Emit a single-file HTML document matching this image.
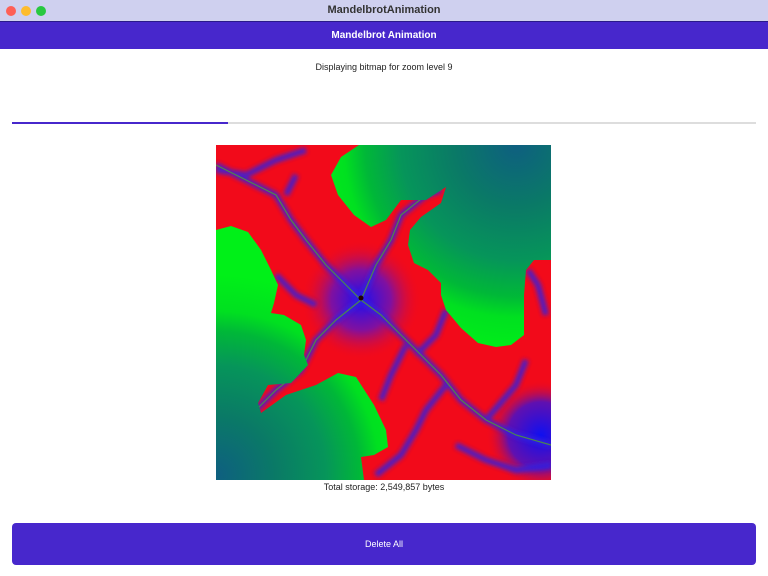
<!DOCTYPE html>
<html><head><meta charset="utf-8"><style>
body{margin:0;width:768px;height:576px;background:#fff;font-family:"Liberation Sans",sans-serif;position:relative;overflow:hidden}
.tb{position:absolute;left:0;top:0;width:768px;height:21px;background:#cfd0ef;border-bottom:1px solid #2a1a8a}
.tb .t{position:absolute;width:100%;text-align:center;top:4px;font-size:11px;font-weight:bold;color:#333}
.dot{position:absolute;top:6px;width:10px;height:10px;border-radius:50%}
.ab{position:absolute;left:0;top:22px;width:768px;height:27px;background:#4727cc;color:#fff;font-size:10px;font-weight:bold;text-align:center;line-height:27px}
.msg{position:absolute;top:62px;width:768px;text-align:center;font-size:9px;color:#222}
.pb{position:absolute;left:12px;top:122px;width:744px;height:2px;background:#ddd}
.pb div{width:216px;height:100%;background:#4727cc}
.cap{position:absolute;top:482px;width:768px;text-align:center;font-size:9px;color:#222}
.btn{position:absolute;left:12px;top:523px;width:744px;height:42px;background:#4727cc;border-radius:4px;color:#fff;font-size:9px;text-align:center;line-height:42px}
</style></head><body>
<div class="tb">
<div class="dot" style="left:6px;background:#fe5f57"></div>
<div class="dot" style="left:21px;background:#febc2e"></div>
<div class="dot" style="left:36px;background:#28c840"></div>
<div class="t">MandelbrotAnimation</div></div>
<div class="ab">Mandelbrot Animation</div>
<div class="msg">Displaying bitmap for zoom level 9</div>
<div class="pb"><div></div></div>
<svg style="position:absolute;left:216px;top:145px" width="335" height="335" viewBox="0 0 335 335">
<defs>
<radialGradient id="g1" cx="300" cy="0" r="210" gradientUnits="userSpaceOnUse"><stop offset="0" stop-color="#0e5f80"/><stop offset="0.3" stop-color="#0a7a66"/><stop offset="0.55" stop-color="#06955a"/><stop offset="0.72" stop-color="#00b838"/><stop offset="0.82" stop-color="#00e020"/><stop offset="1" stop-color="#00f018"/></radialGradient>
<radialGradient id="g2" cx="0" cy="330" r="200" gradientUnits="userSpaceOnUse"><stop offset="0" stop-color="#0e5f80"/><stop offset="0.3" stop-color="#0a7a66"/><stop offset="0.55" stop-color="#06955a"/><stop offset="0.72" stop-color="#00b838"/><stop offset="0.82" stop-color="#00e020"/><stop offset="1" stop-color="#00f018"/></radialGradient>
<radialGradient id="rc" cx="145" cy="155" r="60" gradientUnits="userSpaceOnUse"><stop offset="0" stop-color="#2010f0"/><stop offset="0.5" stop-color="#8010a0"/><stop offset="1" stop-color="#f20a1a" stop-opacity="0"/></radialGradient>
<radialGradient id="rc2" cx="325" cy="290" r="55" gradientUnits="userSpaceOnUse"><stop offset="0" stop-color="#1010f0"/><stop offset="0.6" stop-color="#6010b0"/><stop offset="1" stop-color="#f20a1a" stop-opacity="0"/></radialGradient>
<filter id="b"><feGaussianBlur stdDeviation="2"/></filter>
</defs>
<rect width="335" height="335" fill="#f20a1a"/>
<rect width="335" height="335" fill="url(#rc)"/>
<rect width="335" height="335" fill="url(#rc2)"/>
<g filter="url(#b)" fill="none" stroke="#3020e0" stroke-width="6" opacity="0.85">
<polyline points="0,20 30,35 60,50 75,75 90,95 110,120 130,140 145,155 165,170 185,190 205,210 225,230 245,255 270,275 300,290 335,300"/>
<polyline points="0,25 30,30 60,15 90,5"/>
<polyline points="80,30 70,50"/>
<polyline points="145,155 160,120 175,95 185,70 210,50 225,45"/>
<polyline points="145,155 120,175 100,195 85,225 60,245 40,265"/>
<polyline points="200,210 220,190 230,165"/>
<polyline points="190,200 175,230 165,255"/>
<polyline points="230,240 210,265 200,285 185,310 160,330"/>
<polyline points="270,275 300,240 310,215"/>
<polyline points="312,125 322,140 330,170"/>
<polyline points="240,300 270,315 300,325 335,320"/>
<polyline points="60,130 80,150 100,160"/>
</g>
<g fill="none" stroke="#50a030" stroke-width="1.2" opacity="0.8">
<polyline points="0,20 30,35 60,50 75,75 90,95 110,120 130,140 145,155 165,170 185,190 205,210 225,230 245,255 270,275 300,290 335,300"/>
<polyline points="145,155 160,120 175,95 185,70 210,50 225,45"/>
<polyline points="145,155 120,175 100,195 85,225 60,245 40,265"/>
</g>
<path d="M143,0 L335,0 L335,115 L318,115 L310,125 L308,150 L308,190 L295,200 L280,202 L262,198 L245,183 L230,165 L225,150 L225,138 L212,125 L198,118 L192,100 L194,85 L205,72 L225,58 L230,42 L210,55 L185,55 L170,75 L155,82 L138,70 L122,50 L115,30 L125,12 Z" fill="url(#g1)"/>
<path d="M0,85 L15,81 L32,87 L45,105 L55,125 L62,140 L58,158 L55,168 L68,170 L85,180 L90,195 L88,210 L92,220 L75,238 L52,240 L42,258 L45,268 L70,250 L100,240 L122,228 L140,232 L158,260 L170,285 L172,302 L158,310 L145,312 L148,335 L0,335 Z" fill="url(#g2)"/>
<circle cx="145" cy="153" r="2.5" fill="#200"/>
</svg>
<div class="cap">Total storage: 2,549,857 bytes</div>
<div class="btn">Delete All</div>
</body></html>
